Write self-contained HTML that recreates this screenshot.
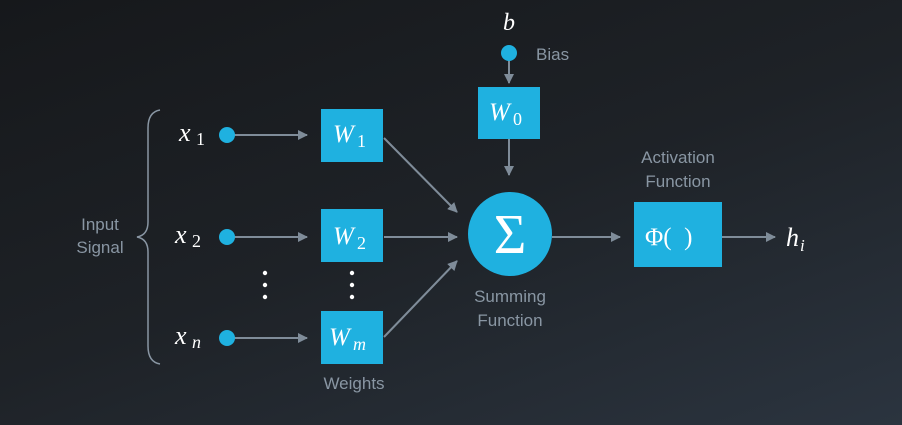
<!DOCTYPE html>
<html><head><style>
html,body{margin:0;padding:0}
body{width:902px;height:425px;overflow:hidden;background:linear-gradient(160deg,#16181b 0%,#1e2227 50%,#2b343f 100%);}
svg{display:block}
.t{font-family:"Liberation Sans",sans-serif;fill:#8996a3;font-size:17px}
.m{font-family:"Liberation Serif",serif;font-style:italic;fill:#fff}
.n{font-family:"Liberation Serif",serif;fill:#fff}
</style></head><body>
<svg width="902" height="425" viewBox="0 0 902 425">
<defs><marker id="a" markerWidth="10" markerHeight="10" refX="9" refY="5" orient="auto" markerUnits="userSpaceOnUse"><path d="M0,0 L10,5 L0,10 z" fill="#7f8c99"/></marker></defs>
<g stroke="#7f8c99" stroke-width="2" fill="none" marker-end="url(#a)">
<line x1="230" y1="135" x2="307" y2="135"/>
<line x1="230" y1="237" x2="307" y2="237"/>
<line x1="230" y1="338" x2="307" y2="338"/>
<line x1="384" y1="138" x2="457" y2="212"/>
<line x1="384" y1="237" x2="457" y2="237"/>
<line x1="384" y1="337" x2="457" y2="261"/>
<line x1="509" y1="56" x2="509" y2="83"/>
<line x1="509" y1="139" x2="509" y2="175"/>
<line x1="552" y1="237" x2="620" y2="237"/>
<line x1="722" y1="237" x2="775" y2="237"/>
</g>
<path d="M160,110 Q148,112 148,128 L148,222 Q148,235 137,237 Q148,239 148,252 L148,346 Q148,362 160,364" stroke="#8996a3" stroke-width="1.5" fill="none"/>
<g fill="#1fb1e0">
<circle cx="227" cy="135" r="8"/><circle cx="227" cy="237" r="8"/><circle cx="227" cy="338" r="8"/>
<circle cx="509" cy="53" r="8"/>
<rect x="321" y="109" width="62" height="53"/>
<rect x="321" y="209" width="62" height="53"/>
<rect x="321" y="311" width="62" height="53"/>
<rect x="478" y="87" width="62" height="52"/>
<circle cx="510" cy="234" r="42"/>
<rect x="634" y="202" width="88" height="65"/>
</g>
<g fill="#fff"><circle cx="265" cy="273" r="2.2"/><circle cx="265" cy="285" r="2.2"/><circle cx="265" cy="297" r="2.2"/>
<circle cx="352" cy="273" r="2.2"/><circle cx="352" cy="285" r="2.2"/><circle cx="352" cy="297" r="2.2"/></g>
<text class="m" x="179" y="141" font-size="26">x</text><text class="n" x="196" y="145" font-size="18">1</text>
<text class="m" x="175" y="243" font-size="26">x</text><text class="n" x="192" y="247" font-size="18">2</text>
<text class="m" x="175" y="344" font-size="26">x</text><text class="m" x="192" y="348" font-size="18">n</text>
<text class="m" x="333" y="142" font-size="25">W</text><text class="n" x="357" y="147" font-size="18">1</text>
<text class="m" x="333" y="244" font-size="25">W</text><text class="n" x="357" y="249" font-size="18">2</text>
<text class="m" x="329" y="345" font-size="25">W</text><text class="m" x="353" y="350" font-size="18">m</text>
<text class="m" x="489" y="120" font-size="25">W</text><text class="n" x="513" y="125" font-size="18">0</text>
<text class="m" x="503" y="30" font-size="24">b</text>
<text class="n" x="510" y="253" font-size="56" text-anchor="middle">Σ</text>
<text class="n" x="645" y="245" font-size="25">Φ(&#160;&#160;)</text>
<text class="m" x="786" y="246" font-size="26">h</text><text class="m" x="800" y="251" font-size="17">i</text>
<text class="t" x="536" y="60">Bias</text>
<text class="t" x="678" y="163" text-anchor="middle">Activation</text>
<text class="t" x="678" y="187" text-anchor="middle">Function</text>
<text class="t" x="510" y="302" text-anchor="middle">Summing</text>
<text class="t" x="510" y="326" text-anchor="middle">Function</text>
<text class="t" x="354" y="389" text-anchor="middle">Weights</text>
<text class="t" x="100" y="230" text-anchor="middle">Input</text>
<text class="t" x="100" y="253" text-anchor="middle">Signal</text>
</svg>
</body></html>
